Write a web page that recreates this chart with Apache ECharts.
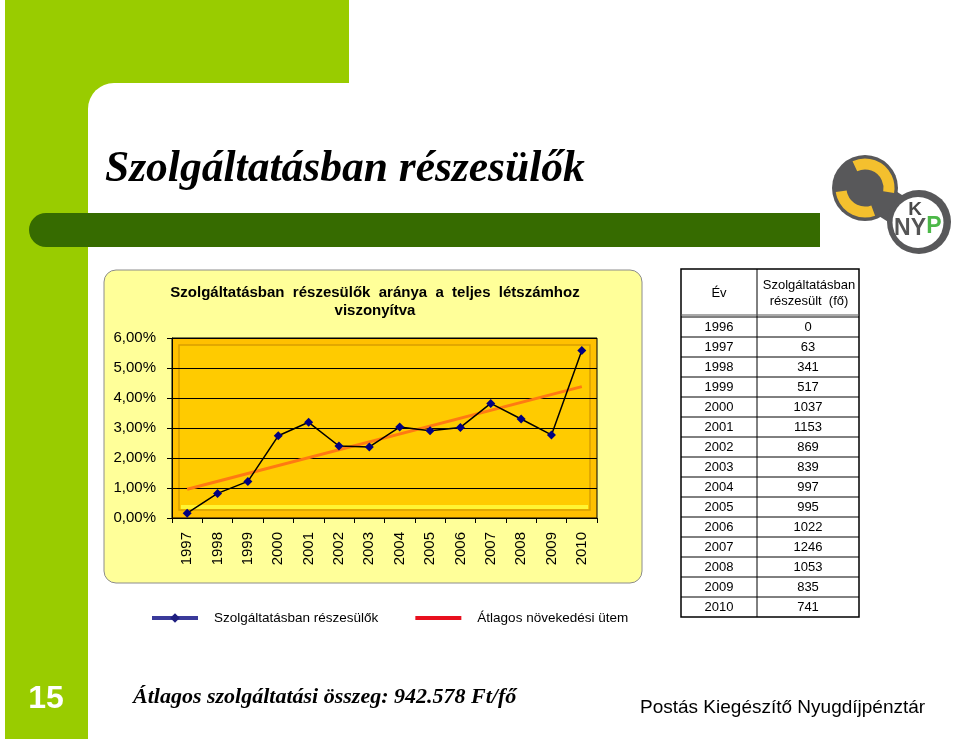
<!DOCTYPE html>
<html>
<head>
<meta charset="utf-8">
<script src="https://cdn.jsdelivr.net/npm/echarts@6/dist/echarts.min.js"></script>
<style>
html,body{margin:0;padding:0;background:#fff;}
#main{width:960px;height:739px;}
</style>
</head>
<body>
<div id="main"></div>
<script>
// ---- data ----
const categories = ['1997','1998','1999','2000','2001','2002','2003','2004','2005','2006','2007','2008','2009','2010'];
const participantShare = [0.16,0.82,1.22,2.74,3.19,2.40,2.37,3.03,2.91,3.02,3.82,3.30,2.77,5.58];
const trendValues = [0.96,null,null,null,null,null,null,null,null,null,null,null,null,4.38];
const tableYears = ['1996','1997','1998','1999','2000','2001','2002','2003','2004','2005','2006','2007','2008','2009','2010'];
const tableCounts = [0,63,341,517,1037,1153,869,839,997,995,1022,1246,1053,835,741];
const seriesNames = ['Szolgáltatásban részesülők','Átlagos növekedési ütem'];

const FONT = "'Liberation Sans', Arial, sans-serif";
const SERIF = "'Liberation Serif', 'Times New Roman', serif";
const deg = Math.PI / 180;

const chart = echarts.init(document.getElementById('main'), null, {renderer:'canvas'});

const graphics = [];
// slide background decorations
graphics.push({type:'rect', z:0, silent:true, shape:{x:5,y:0,width:344,height:83}, style:{fill:'#99CC00'}});
graphics.push({type:'rect', z:0, silent:true, shape:{x:5,y:0,width:83,height:739}, style:{fill:'#99CC00'}});
graphics.push({type:'rect', z:0, silent:true, shape:{x:80,y:75,width:50,height:50}, style:{fill:'#99CC00'}});
graphics.push({type:'rect', z:0, z2:1, silent:true, shape:{x:88,y:83,width:872,height:656,r:[26,0,0,0]}, style:{fill:'#ffffff'}});
graphics.push({type:'rect', z:0, z2:2, silent:true, shape:{x:29,y:213,width:791,height:34,r:[17,0,0,17]}, style:{fill:'#366B00'}});
// title
graphics.push({type:'text', z:10, left:105, top:148, style:{text:'Szolgáltatásban részesülők', font:'italic bold 43.5px '+SERIF, fill:'#000'}});
// logo
graphics.push({type:'line', z:0, z2:3, silent:true, shape:{x1:866,y1:190,x2:918,y2:223}, style:{stroke:'#58585A', lineWidth:30, lineCap:'round'}});
graphics.push({type:'circle', z:0, z2:4, silent:true, shape:{cx:865,cy:188,r:33}, style:{fill:'#58585A'}});
graphics.push({type:'circle', z:0, z2:4, silent:true, shape:{cx:919,cy:222,r:32}, style:{fill:'#58585A'}});
graphics.push({type:'arc', z:0, z2:5, silent:true, shape:{cx:865,cy:188,r:24,startAngle:-115*deg,endAngle:10*deg,clockwise:true}, style:{stroke:'#F4C02E', lineWidth:11, fill:null}});
graphics.push({type:'arc', z:0, z2:5, silent:true, shape:{cx:865,cy:188,r:24,startAngle:70*deg,endAngle:172*deg,clockwise:true}, style:{stroke:'#F4C02E', lineWidth:11, fill:null}});
graphics.push({type:'circle', z:0, z2:6, silent:true, shape:{cx:918,cy:222.5,r:25.5}, style:{fill:'#ffffff'}});
graphics.push({type:'text', z:0, z2:7, x:915, y:210, style:{text:'K', font:'bold 19px '+FONT, fill:'#4a4a4a', align:'center', verticalAlign:'middle'}});
graphics.push({type:'text', z:0, z2:7, x:910, y:229, style:{text:'NY', font:'bold 23px '+FONT, fill:'#555', align:'center', verticalAlign:'middle'}});
graphics.push({type:'text', z:0, z2:7, x:934, y:227, style:{text:'P', font:'bold 23px '+FONT, fill:'#4CB848', align:'center', verticalAlign:'middle'}});
// chart box
graphics.push({type:'rect', z:0, z2:8, silent:true, shape:{x:104,y:270,width:538,height:313,r:12}, style:{fill:'#FFFF99', stroke:'#8C8C8C', lineWidth:1}});
// chart title
graphics.push({type:'text', z:10, x:375, y:293, style:{text:'Szolgáltatásban  részesülők  aránya  a  teljes  létszámhoz', font:'bold 15px '+FONT, fill:'#000', align:'center', verticalAlign:'middle'}});
graphics.push({type:'text', z:10, x:375, y:311, style:{text:'viszonyítva', font:'bold 15px '+FONT, fill:'#000', align:'center', verticalAlign:'middle'}});
// plot area decoration
graphics.push({type:'rect', z:1, silent:true, shape:{x:172,y:338,width:425,height:180}, style:{fill:'#FFC000', stroke:'#000', lineWidth:1}});
graphics.push({type:'rect', z:1, z2:1, silent:true, shape:{x:179,y:345,width:411,height:165}, style:{fill:'#FFCB00', stroke:'#D99E00', lineWidth:1.5}});
graphics.push({type:'rect', z:1, z2:2, silent:true, shape:{x:181,y:505,width:407,height:4}, style:{fill:'#FFF533'}});

// table
const tX0 = 681, tX1 = 757, tX2 = 859, tY0 = 269, tHead = 317, rowH = 20;
const tBottom = tHead + rowH * tableYears.length;
graphics.push({type:'rect', z:10, silent:true, shape:{x:tX0,y:tY0,width:tX2-tX0,height:tBottom-tY0}, style:{fill:'#fff', stroke:'#000', lineWidth:1.5}});
graphics.push({type:'line', z:10, z2:2, silent:true, shape:{x1:tX1,y1:tY0,x2:tX1,y2:tBottom}, style:{stroke:'#000', lineWidth:1}});
graphics.push({type:'line', z:10, z2:2, silent:true, shape:{x1:tX0,y1:tHead-2,x2:tX2,y2:tHead-2}, style:{stroke:'#555', lineWidth:1}});
graphics.push({type:'line', z:10, z2:2, silent:true, shape:{x1:tX0,y1:tHead,x2:tX2,y2:tHead}, style:{stroke:'#000', lineWidth:1}});
graphics.push({type:'text', z:10, z2:3, x:(tX0+tX1)/2, y:293, style:{text:'Év', font:'13px '+FONT, fill:'#000', align:'center', verticalAlign:'middle'}});
graphics.push({type:'text', z:10, z2:3, x:(tX1+tX2)/2+1, y:285, style:{text:'Szolgáltatásban', font:'13px '+FONT, fill:'#000', align:'center', verticalAlign:'middle'}});
graphics.push({type:'text', z:10, z2:3, x:(tX1+tX2)/2+1, y:301, style:{text:'részesült  (fő)', font:'13px '+FONT, fill:'#000', align:'center', verticalAlign:'middle'}});
tableYears.forEach(function(yr, i){
  const top = tHead + i*rowH;
  if (i > 0) graphics.push({type:'line', z:10, z2:2, silent:true, shape:{x1:tX0,y1:top,x2:tX2,y2:top}, style:{stroke:'#000', lineWidth:1}});
  graphics.push({type:'text', z:10, z2:3, x:(tX0+tX1)/2, y:top+rowH/2, style:{text:yr, font:'13px '+FONT, fill:'#000', align:'center', verticalAlign:'middle'}});
  graphics.push({type:'text', z:10, z2:3, x:(tX1+tX2)/2, y:top+rowH/2, style:{text:String(tableCounts[i]), font:'13px '+FONT, fill:'#000', align:'center', verticalAlign:'middle'}});
});

// footer
graphics.push({type:'text', z:10, x:46, y:699, style:{text:'15', font:'bold 32px '+FONT, fill:'#fff', align:'center', verticalAlign:'middle'}});
graphics.push({type:'text', z:10, left:133, top:686, style:{text:'Átlagos szolgáltatási összeg: 942.578 Ft/fő', font:'italic bold 22px '+SERIF, fill:'#000'}});
graphics.push({type:'text', z:10, left:640, top:698, style:{text:'Postás Kiegészítő Nyugdíjpénztár', font:'19px '+FONT, fill:'#000'}});

const option = {
  animation:false,
  backgroundColor:'#ffffff',
  textStyle:{fontFamily:FONT},
  graphic:{elements:graphics},
  grid:{left:172, right:363, top:338, bottom:221, containLabel:false},
  legend:{
    left:150, top:611, padding:0, itemWidth:46, itemHeight:12, itemGap:37,
    textStyle:{fontSize:13.5, color:'#000', fontFamily:FONT, padding:[0,0,0,11]},
    data:[
      {name:seriesNames[0], itemStyle:{color:'#1F1F80'}, lineStyle:{color:'#3A3A9A', width:4}},
      {name:seriesNames[1], icon:'path://M0,0L46,0L46,4L0,4Z', itemStyle:{color:'#E8101E'}}
    ]
  },
  xAxis:{
    type:'category', data:categories, boundaryGap:true, z:3,
    axisLine:{lineStyle:{color:'#000', width:1}},
    axisTick:{show:true, length:5, interval:0, lineStyle:{color:'#000'}},
    axisLabel:{rotate:90, margin:14, fontSize:15, color:'#000', fontFamily:FONT, interval:0},
    splitLine:{show:false}
  },
  yAxis:{
    type:'value', min:0, max:6, interval:1, z:3,
    axisLine:{show:true, lineStyle:{color:'#000', width:1}},
    axisTick:{show:true, length:5, lineStyle:{color:'#000'}},
    axisLabel:{margin:16, fontSize:15, color:'#000', fontFamily:FONT,
      formatter:function(v){return v.toFixed(2).replace('.',',')+'%';}},
    splitLine:{show:true, lineStyle:{color:'#000', width:1}}
  },
  series:[
    {
      name:seriesNames[1], type:'line', data:trendValues, connectNulls:true, z:4,
      symbol:'none', showSymbol:false,
      lineStyle:{color:'#FF7A12', width:3}, itemStyle:{color:'#FF7A12'}
    },
    {
      name:seriesNames[0], type:'line', data:participantShare, z:5,
      symbol:'diamond', symbolSize:9, showSymbol:true,
      lineStyle:{color:'#000', width:1.5}, itemStyle:{color:'#000080'}
    }
  ]
};
chart.setOption(option);
</script>
</body>
</html>
